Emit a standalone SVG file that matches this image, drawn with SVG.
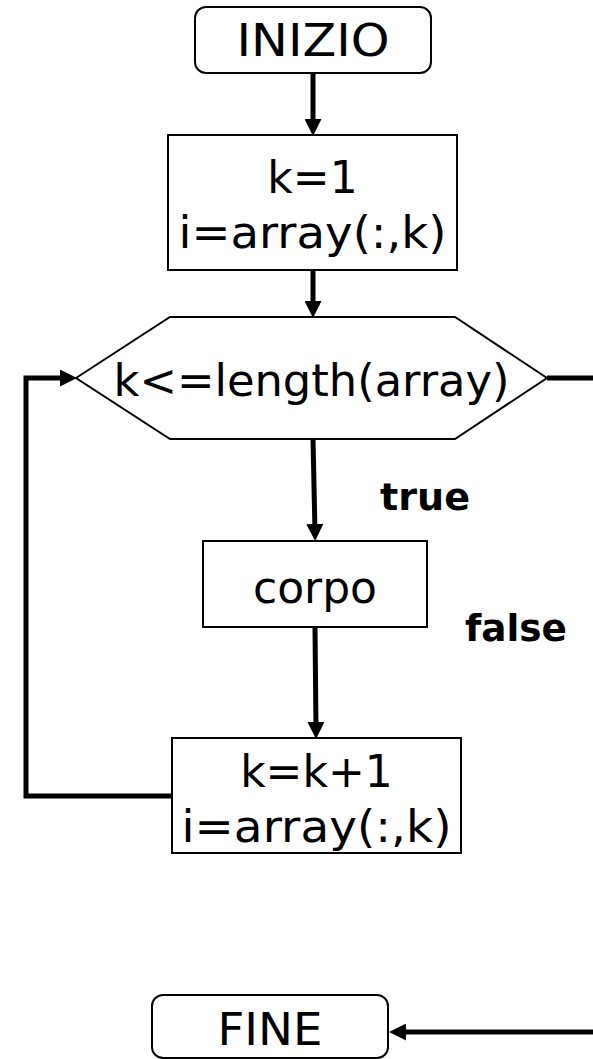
<svg xmlns="http://www.w3.org/2000/svg" width="593" height="1059" viewBox="0 0 593 1059">
<style>
.box{fill:#fff;stroke:#000;stroke-width:2}
.t{font-family:"DejaVu Sans",Verdana,sans-serif;font-size:44px;fill:#000;text-anchor:middle}
.lbl{font-family:"DejaVu Sans",Verdana,sans-serif;font-size:38px;font-weight:bold;fill:#000}
.c{fill:none;stroke:#000;stroke-width:5}
</style>
<defs>
<marker id="ah" markerUnits="userSpaceOnUse" markerWidth="17" markerHeight="17" refX="8" refY="8.5" orient="auto" viewBox="0 0 17 17">
<path d="M0,0 L17,8.5 L0,17 z" fill="#000"/>
</marker>
</defs>
<rect width="593" height="1059" fill="#fff"/>
<g id="connectors">
<line class="c" x1="313" y1="73" x2="313" y2="127" marker-end="url(#ah)"/>
<line class="c" x1="313" y1="270" x2="313" y2="309" marker-end="url(#ah)"/>
<line class="c" x1="313" y1="439" x2="315" y2="532" marker-end="url(#ah)"/>
<line class="c" x1="315" y1="627" x2="316" y2="730" marker-end="url(#ah)"/>
<polyline class="c" points="172,796 26,796 26,378 68,378" marker-end="url(#ah)"/>
<line class="c" x1="547" y1="378" x2="593" y2="378"/>
<line class="c" x1="593" y1="1032" x2="398" y2="1032" marker-end="url(#ah)"/>
<text class="lbl" x="380" y="510" textLength="90" lengthAdjust="spacingAndGlyphs">true</text>
<text class="lbl" x="465" y="641" textLength="102" lengthAdjust="spacingAndGlyphs">false</text>
</g>
<g id="inizio">
<rect class="box" x="195" y="7" width="236" height="66" rx="11"/>
<text class="t" x="313" y="56" textLength="153" lengthAdjust="spacingAndGlyphs">INIZIO</text>
</g>
<g id="init">
<rect class="box" x="168" y="135" width="289" height="135"/>
<text class="t" x="312.5" y="193">k=1</text>
<text class="t" x="312.5" y="248" textLength="268" lengthAdjust="spacingAndGlyphs">i=array(:,k)</text>
</g>
<g id="cond">
<polygon class="box" points="76,378 170,317 455,317 547,378 455,439 170,439"/>
<text class="t" x="311.5" y="396" textLength="396" lengthAdjust="spacingAndGlyphs">k&lt;=length(array)</text>
</g>
<g id="corpo">
<rect class="box" x="203" y="541" width="224" height="86"/>
<text class="t" x="315" y="603">corpo</text>
</g>
<g id="incr">
<rect class="box" x="172" y="738" width="289" height="115"/>
<text class="t" x="316.5" y="787">k=k+1</text>
<text class="t" x="316.5" y="842" textLength="270" lengthAdjust="spacingAndGlyphs">i=array(:,k)</text>
</g>
<g id="fine">
<rect class="box" x="152" y="995" width="236" height="63" rx="11"/>
<text class="t" x="270" y="1045" textLength="105" lengthAdjust="spacingAndGlyphs">FINE</text>
</g>
</svg>
